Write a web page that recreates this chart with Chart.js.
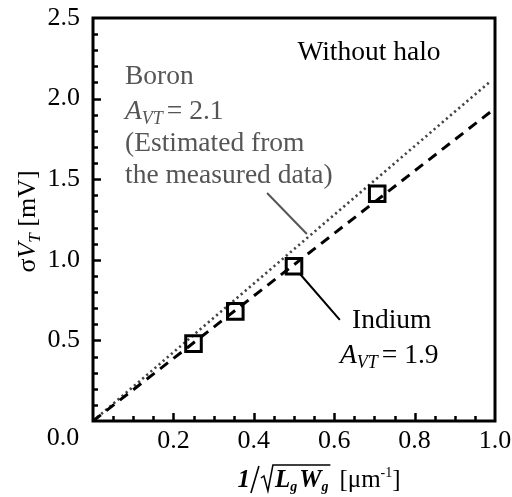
<!DOCTYPE html>
<html>
<head>
<meta charset="utf-8">
<script src="https://cdn.jsdelivr.net/npm/chart.js@4/dist/chart.umd.min.js"></script>
<style>
  html, body { margin: 0; padding: 0; background: #ffffff; }
  #wrap { width: 512px; height: 497px; }
</style>
</head>
<body>
<div id="wrap"><canvas id="c" width="512" height="497"></canvas></div>
<script>
// Measured threshold-voltage mismatch vs. inverse square root of gate area
const invSqrtArea = [0.25, 0.354, 0.5, 0.707];       // 1/sqrt(Lg*Wg) [um^-1]
const sigmaVtIndium = [0.48, 0.68, 0.96, 1.41];       // sigma VT [mV]

// Pelgrom fit lines through the origin
const fitX = [0, 0.99];
const boronFitY = [0, 2.11];   // A_VT = 2.1
const indiumFitY = [0, 1.92];  // A_VT = 1.9

// Axis ticks
const xTickValues = [0.2, 0.4, 0.6, 0.8, 1.0];
const yTickValues = [0.5, 1.0, 1.5, 2.0, 2.5];

const SERIF = '"Liberation Serif", "Times New Roman", Times, serif';
const GREY = '#555555';
const NOTE = '27.5px ' + SERIF;
const NOTE_I = 'italic 27.5px ' + SERIF;
const NOTE_SUB = 'italic 18px ' + SERIF;

function pairs(xs, ys) { return xs.map((x, i) => ({ x: x, y: ys[i] })); }

// Draw a row of text runs (font / vertical shift) starting at x, baseline y
function runsWidth(ctx, runs) {
  let w = 0;
  runs.forEach(r => { ctx.font = r.font; w += ctx.measureText(r.t).width + (r.gap || 0); });
  return w;
}
function drawRuns(ctx, x, y, runs, align) {
  const w = runsWidth(ctx, runs);
  let cx = align === 'center' ? x - w / 2 : x;
  ctx.textBaseline = 'alphabetic';
  ctx.textAlign = 'left';
  runs.forEach(r => {
    ctx.font = r.font;
    ctx.fillText(r.t, cx, y + (r.dy || 0));
    cx += ctx.measureText(r.t).width + (r.gap || 0);
  });
  return w;
}

const decorations = {
  id: 'decorations',
  afterDatasetsDraw(chart) {
    const ctx = chart.ctx;
    const xs = chart.scales.x, ys = chart.scales.y;
    const a = chart.chartArea;
    const px = v => xs.getPixelForValue(v);
    const py = v => ys.getPixelForValue(v);
    ctx.save();

    // frame
    ctx.strokeStyle = '#000';
    ctx.lineWidth = 3;
    ctx.strokeRect(a.left, a.top, a.right - a.left, a.bottom - a.top);

    // inward ticks
    ctx.lineWidth = 2.5;
    ctx.beginPath();
    for (let i = 1; i < 25; i++) {
      const v = i / 10;
      const len = (i % 5 === 0) ? 8 : 5;
      const y = Math.round(py(v)) + 0.5;
      ctx.moveTo(a.left, y); ctx.lineTo(a.left + len, y);
    }
    for (let i = 1; i < 20; i++) {
      const v = i / 20;
      const len = (i % 4 === 0) ? 8 : 5;
      const x = Math.round(px(v)) + 0.5;
      ctx.moveTo(x, a.bottom); ctx.lineTo(x, a.bottom - len);
    }
    ctx.stroke();

    // shared origin label
    ctx.fillStyle = '#000';
    ctx.font = '26px ' + SERIF;
    ctx.textAlign = 'center';
    ctx.textBaseline = 'middle';
    ctx.fillText('0.0', a.left - 30, a.bottom + 17);

    // y-axis title: sigma V_T [mV]
    ctx.save();
    ctx.translate(35, (a.top + a.bottom) / 2 + 2);
    ctx.rotate(-Math.PI / 2);
    drawRuns(ctx, 0, 0, [
      { t: '\u03c3', font: '26px ' + SERIF },
      { t: 'V', font: 'italic 26px ' + SERIF },
      { t: 'T', font: 'italic 17px ' + SERIF, dy: 5 },
      { t: ' [mV]', font: '26px ' + SERIF }
    ], 'center');
    ctx.restore();

    // x-axis title: 1/sqrt(Lg Wg) [um^-1]
    {
      const base = 487;
      const bi = 'bold italic 25px ' + SERIF;
      const bis = 'bold italic 14px ' + SERIF;
      const inner = [
        { t: 'L', font: bi }, { t: 'g', font: bis, dy: 4, gap: 2 },
        { t: 'W', font: bi }, { t: 'g', font: bis, dy: 4 }
      ];
      const unit = [
        { t: '[\u03bcm', font: '25px ' + SERIF },
        { t: '-1', font: '14px ' + SERIF, dy: -10 },
        { t: ']', font: '25px ' + SERIF }
      ];
      ctx.font = bi;
      const oneW = ctx.measureText('1').width;
      const slashW = 10, radW = 13, gapW = 9;
      const innerW = runsWidth(ctx, inner);
      const unitW = runsWidth(ctx, unit);
      const total = oneW + slashW + radW + innerW + 4 + gapW + unitW;
      let x = 319 - total / 2;
      ctx.fillStyle = '#000';
      ctx.textAlign = 'left';
      ctx.textBaseline = 'alphabetic';
      ctx.font = bi;
      ctx.fillText('1', x, base);
      x += oneW;
      // slanted fraction bar
      ctx.strokeStyle = '#000';
      ctx.lineWidth = 1.6;
      ctx.beginPath();
      ctx.moveTo(x + 1, base + 6); ctx.lineTo(x + slashW - 1, base - 21);
      ctx.stroke();
      x += slashW;
      // radical sign with overbar
      ctx.lineWidth = 1.5;
      ctx.beginPath();
      ctx.moveTo(x + 1, base - 9);
      ctx.lineTo(x + 4, base - 11);
      ctx.lineTo(x + 8, base + 4);
      ctx.lineTo(x + radW, base - 22);
      ctx.lineTo(x + radW + innerW + 4, base - 22);
      ctx.stroke();
      x += radW + 2;
      drawRuns(ctx, x, base, inner, 'left');
      x += innerW + 2 + gapW;
      drawRuns(ctx, x, base, unit, 'left');
    }

    // annotations
    ctx.fillStyle = '#000';
    drawRuns(ctx, 369, 60, [{ t: 'Without halo', font: NOTE }], 'center');

    ctx.fillStyle = GREY;
    const lx = 125;
    drawRuns(ctx, lx, 84, [{ t: 'Boron', font: NOTE }], 'left');
    drawRuns(ctx, lx, 119, [
      { t: 'A', font: NOTE_I },
      { t: 'VT', font: NOTE_SUB, dy: 5, gap: 4 },
      { t: '= 2.1', font: NOTE }
    ], 'left');
    drawRuns(ctx, lx, 151, [{ t: '(Estimated from', font: NOTE }], 'left');
    drawRuns(ctx, lx, 183, [{ t: 'the measured data)', font: NOTE }], 'left');

    ctx.fillStyle = '#000';
    drawRuns(ctx, 352, 328, [{ t: 'Indium', font: NOTE }], 'left');
    drawRuns(ctx, 340, 363, [
      { t: 'A', font: NOTE_I },
      { t: 'VT', font: NOTE_SUB, dy: 5, gap: 4 },
      { t: '= 1.9', font: NOTE }
    ], 'left');

    // leader lines
    ctx.lineWidth = 2;
    ctx.strokeStyle = GREY;
    ctx.beginPath();
    ctx.moveTo(px(0.433), py(1.414)); ctx.lineTo(px(0.532), py(1.16));
    ctx.stroke();
    ctx.strokeStyle = '#000';
    ctx.beginPath();
    ctx.moveTo(px(0.515), py(0.912)); ctx.lineTo(px(0.614), py(0.627));
    ctx.stroke();

    ctx.restore();
  }
};

new Chart(document.getElementById('c'), {
  type: 'scatter',
  data: {
    datasets: [
      {
        label: 'Indium',
        data: pairs(invSqrtArea, sigmaVtIndium),
        pointStyle: 'rect',
        pointRadius: 11,
        pointHoverRadius: 11,
        borderWidth: 3,
        borderColor: '#000',
        backgroundColor: 'rgba(0,0,0,0)',
        order: 0
      },
      {
        label: 'Boron fit',
        type: 'line',
        data: pairs(fitX, boronFitY),
        borderColor: '#444444',
        borderWidth: 2.6,
        borderDash: [2.2, 3.2],
        pointRadius: 0,
        fill: false,
        order: 2
      },
      {
        label: 'Indium fit',
        type: 'line',
        data: pairs(fitX, indiumFitY),
        borderColor: '#000',
        borderWidth: 3,
        borderDash: [10, 7],
        pointRadius: 0,
        fill: false,
        order: 1
      }
    ]
  },
  options: {
    responsive: false,
    animation: false,
    events: [],
    layout: { padding: { left: 0, top: 18, right: 17, bottom: 0 } },
    plugins: { legend: { display: false }, tooltip: { enabled: false } },
    scales: {
      x: {
        type: 'linear', min: 0, max: 1.0,
        afterBuildTicks(s) { s.ticks = xTickValues.map(v => ({ value: v })); },
        afterFit(s) {
          s.height = 76;
          s.paddingLeft = 0; s.paddingRight = 0; s.paddingTop = 0; s.paddingBottom = 0;
        },
        grid: { display: false, drawTicks: false },
        border: { display: false },
        ticks: {
          padding: 5,
          color: '#000',
          font: { family: SERIF, size: 26 },
          callback: v => Number(v).toFixed(1)
        }
      },
      y: {
        type: 'linear', min: 0, max: 2.5,
        afterBuildTicks(s) { s.ticks = yTickValues.map(v => ({ value: v })); },
        afterFit(s) {
          s.width = 93;
          s.paddingLeft = 0; s.paddingRight = 0; s.paddingTop = 0; s.paddingBottom = 0;
        },
        grid: { display: false, drawTicks: false },
        border: { display: false },
        ticks: {
          padding: 13,
          color: '#000',
          font: { family: SERIF, size: 26 },
          callback: v => Number(v).toFixed(1)
        }
      }
    }
  },
  plugins: [decorations]
});
</script>
</body>
</html>
